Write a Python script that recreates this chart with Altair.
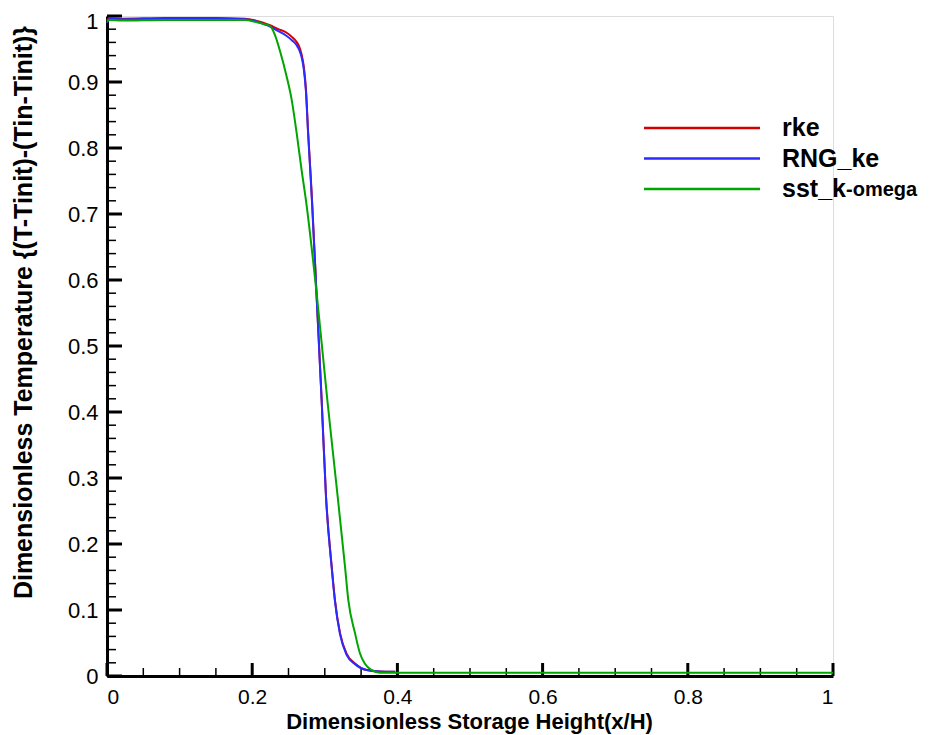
import altair as alt
import pandas as pd

# ---- data ----
x_ke = [0.0, 0.004, 0.02, 0.08, 0.15, 0.19, 0.205, 0.215, 0.2245, 0.236, 0.247, 0.255,
        0.261, 0.265, 0.268, 0.271, 0.274, 0.277, 0.2806, 0.2824, 0.289, 0.2957, 0.3017,
        0.3095, 0.314, 0.321, 0.330, 0.3416, 0.3576, 0.375, 0.397]
y_rke = [0.994, 0.997, 0.996, 0.997, 0.997, 0.996, 0.993, 0.99, 0.986, 0.98, 0.975, 0.968,
         0.961, 0.953, 0.942, 0.924, 0.89, 0.825, 0.757, 0.721, 0.57, 0.418, 0.272,
         0.166, 0.115, 0.065, 0.034, 0.019, 0.009, 0.007, 0.0066]
y_rng = [0.99, 0.996, 0.995, 0.996, 0.996, 0.995, 0.992, 0.988, 0.984, 0.977, 0.97, 0.963,
         0.956, 0.948, 0.938, 0.92, 0.886, 0.822, 0.754, 0.718, 0.568, 0.416, 0.27,
         0.164, 0.113, 0.063, 0.032, 0.018, 0.009, 0.007, 0.0066]
x_sst = [0.0, 0.004, 0.02, 0.08, 0.15, 0.19, 0.205, 0.215, 0.2245, 0.2314, 0.238, 0.2475,
         0.2544, 0.2613, 0.268, 0.274, 0.2897, 0.3035, 0.3177, 0.3278, 0.3324, 0.3416,
         0.3485, 0.355, 0.3646, 0.376, 0.4, 1.0]
y_sst = [0.992, 0.994, 0.993, 0.994, 0.994, 0.994, 0.991, 0.988, 0.985, 0.971, 0.948, 0.908,
         0.873, 0.822, 0.767, 0.721, 0.570, 0.418, 0.272, 0.166, 0.115, 0.065,
         0.034, 0.019, 0.009, 0.005, 0.005, 0.005]

series = ["rke", "RNG_ke", "sst_k-omega"]
colors = ["#d40000", "#2b2bff", "#00a500"]
legend_main = ["rke", "RNG_ke", "sst_k"]
legend_suffix = ["", "", "-omega"]

x_major = [0, 0.2, 0.4, 0.6, 0.8, 1.0]
x_minor = [0.05, 0.1, 0.15, 0.25, 0.3, 0.35, 0.45, 0.5, 0.55, 0.65, 0.7, 0.75, 0.85, 0.9, 0.95]
y_major = [0, 0.1, 0.2, 0.3, 0.4, 0.5, 0.6, 0.7, 0.8, 0.9, 1.0]
y_minor = [0.02, 0.04, 0.06, 0.08, 0.12, 0.14, 0.16, 0.18, 0.22, 0.24, 0.26, 0.28,
           0.32, 0.34, 0.36, 0.38, 0.42, 0.44, 0.46, 0.48, 0.52, 0.54, 0.56, 0.58,
           0.62, 0.64, 0.66, 0.68, 0.72, 0.74, 0.76, 0.78, 0.82, 0.84, 0.86, 0.88,
           0.92, 0.94, 0.96, 0.98]

# ---- tables ----
rows = []
for xv, yv in zip(x_ke, y_rke):
    rows.append({"x": xv, "y": yv, "s": series[0], "o": 0})
for xv, yv in zip(x_ke, y_rng):
    rows.append({"x": xv, "y": yv, "s": series[1], "o": 1})
for xv, yv in zip(x_sst, y_sst):
    rows.append({"x": xv, "y": yv, "s": series[2], "o": 2})
df = pd.DataFrame(rows)

W, H = 726, 660
FONT = "Liberation Sans"

xs = alt.Scale(domain=[0, 1], nice=False, zero=False)
ys = alt.Scale(domain=[0, 1], nice=False, zero=False)
cs = alt.Scale(domain=series, range=colors)

x_axis = alt.Axis(title="Dimensionless Storage Height(x/H)", values=x_major, format=".1~f",
                  ticks=False, tickSize=0, grid=False, domainColor="black", domainWidth=3,
                  labelFont=FONT, labelFontSize=21, labelColor="black", labelPadding=10,
                  titleFont=FONT, titleFontSize=22, titleFontWeight="bold",
                  titleColor="black", titleBaseline="alphabetic", titleY=52, titleX=362)
y_axis = alt.Axis(title="Dimensionless Temperature {(T-Tinit)-(Tin-Tinit)}", values=y_major,
                  format=".1~f", ticks=False, tickSize=0, grid=False, domainColor="black",
                  domainWidth=3, labelFont=FONT, labelFontSize=22, labelColor="black",
                  labelPadding=9,
                  labelOffset={"condition": {"test": "datum.value === 1", "value": 5}, "value": 0},
                  titleFont=FONT, titleFontSize=25, titleFontWeight="bold",
                  titleColor="black", titleBaseline="middle", titleX=-84, titleY=296)

lines = alt.Chart(df).mark_line(strokeWidth=2, interpolate="monotone").encode(
    x=alt.X("x:Q", scale=xs, axis=x_axis),
    y=alt.Y("y:Q", scale=ys, axis=y_axis),
    color=alt.Color("s:N", scale=cs, legend=None),
    order="o:Q",
    detail="s:N",
)

def xticks(vals, length, width):
    d = pd.DataFrame({"x": vals})
    return alt.Chart(d).mark_rule(color="black", strokeWidth=width).encode(
        x=alt.X("x:Q", scale=xs, axis=x_axis),
        y=alt.value(H), y2=alt.value(H - length))

def yticks(vals, length, width):
    d = pd.DataFrame({"y": vals})
    return alt.Chart(d).mark_rule(color="black", strokeWidth=width).encode(
        y=alt.Y("y:Q", scale=ys, axis=y_axis),
        x=alt.value(0), x2=alt.value(length))

main = alt.layer(
    xticks(x_minor, 8, 1.5), xticks(x_major, 13, 3),
    yticks(y_minor, 9, 1.5), yticks(y_major, 15, 3),
    lines,
)

leg_df = pd.DataFrame({"s": series, "m": legend_main, "f": legend_suffix})
leg_y = alt.Y("s:N", scale=alt.Scale(type="point", domain=series, range=[112, 173], padding=0),
              axis=None)
leg_lines = alt.Chart(leg_df).mark_rule(strokeWidth=2.5).encode(
    y=leg_y, x=alt.value(537), x2=alt.value(653),
    color=alt.Color("s:N", scale=cs, legend=None))
leg_text = alt.Chart(leg_df).mark_text(
    align="left", baseline="middle", font=FONT, fontSize=25, fontWeight="bold",
    color="black").encode(y=leg_y, x=alt.value(675), text="m:N")
leg_suffix = alt.Chart(leg_df).mark_text(
    align="left", baseline="middle", font=FONT, fontSize=20, fontWeight="bold",
    color="black", dy=1).encode(y=leg_y, x=alt.value(739), text="f:N")
legend = alt.layer(leg_lines, leg_text, leg_suffix)

chart = alt.layer(main, legend).resolve_scale(y="independent").properties(
    width=W, height=H,
    autosize=alt.AutoSizeParams(type="none"),
    padding={"left": 99, "top": 8, "right": 90, "bottom": 58},
).configure_view(stroke=None).configure(background="white")

chart.save("out.html", embed_options={"renderer": "svg", "actions": False})
